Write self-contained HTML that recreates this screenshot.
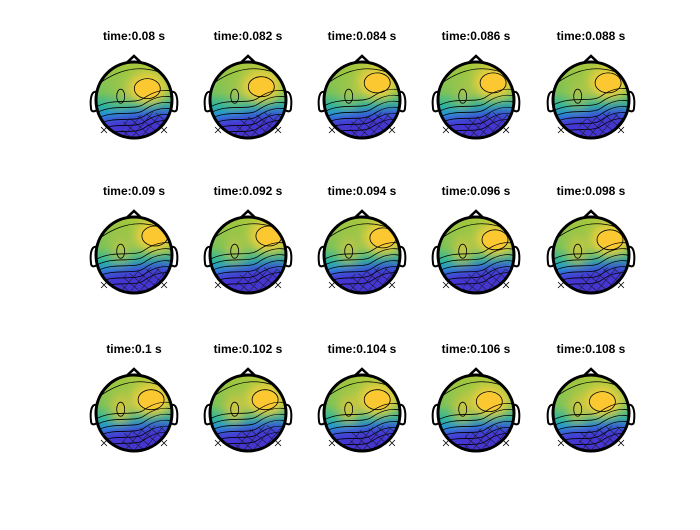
<!DOCTYPE html>
<html><head><meta charset="utf-8"><style>
html,body{margin:0;padding:0;background:#fff;}
#wrap{width:700px;height:525px;position:relative;}
text{font-family:"Liberation Sans",sans-serif;}
</style></head><body>
<div id="wrap">
<svg id="fig" width="700" height="525" viewBox="0 0 700 525">
<defs>
<filter id="blur" x="-50%" y="-50%" width="200%" height="200%"><feGaussianBlur stdDeviation="6"/></filter>
<linearGradient id="bg" x1="0" y1="0" x2="0" y2="1">
<stop offset="0" stop-color="#a8c83a"/><stop offset="0.4" stop-color="#78c25a"/><stop offset="0.58" stop-color="#2cb4a0"/><stop offset="0.7" stop-color="#2296d8"/><stop offset="0.82" stop-color="#4056e2"/><stop offset="1" stop-color="#4a2ec4"/>
</linearGradient>
<pattern id="hatch" width="7" height="7" patternUnits="userSpaceOnUse" patternTransform="rotate(40)">
<path d="M0 0 L0 7 M0 0 L7 0" stroke="#111" stroke-width="0.9" fill="none"/>
</pattern>
</defs>
</svg>
</div>
<script>
const times=[0.08,0.082,0.084,0.086,0.088,0.09,0.092,0.094,0.096,0.098,0.1,0.102,0.104,0.106,0.108];
const blobX=[0.35,0.35,0.4,0.45,0.45,0.55,0.55,0.55,0.5,0.5,0.45,0.45,0.4,0.35,0.3];
const blobY=[-0.3,-0.35,-0.45,-0.45,-0.45,-0.5,-0.5,-0.45,-0.4,-0.4,-0.35,-0.35,-0.35,-0.3,-0.3];
const leftBlob=[0.3,0.3,0.4,0.4,0.5,0.6,0.6,0.7,0.8,0.8,0.9,0.9,0.9,0.8,0.8];
const blueLevel=[0.45,0.45,0.42,0.42,0.4,0.38,0.38,0.38,0.38,0.38,0.42,0.42,0.45,0.45,0.45];
const colX=[134,248,362,476,591];
const rowY=[100,255,413];
const R=38;
const svg=document.getElementById('fig');
const NS='http://www.w3.org/2000/svg';
function mk(tag,attrs,parent){const e=document.createElementNS(NS,tag);for(const k in attrs)e.setAttribute(k,attrs[k]);(parent||svg).appendChild(e);return e;}
times.forEach((t,i)=>{
  const cx=colX[i%5], cy=rowY[Math.floor(i/5)];
  const g=mk('g',{});
  
  
  const title=mk('text',{x:cx,y:cy-60,'text-anchor':'middle','font-size':12,'font-weight':'bold',fill:'#000'},g);
  title.textContent='time:'+t+' s';
  
  
  const cid='c'+i;
  const cp=mk('clipPath',{id:cid},g);mk('circle',{cx:cx,cy:cy,r:R},cp);
  const body=mk('g',{'clip-path':'url(#'+cid+')'},g);
  
  
  mk('rect',{x:cx-R,y:cy-R,width:2*R,height:2*R,fill:'url(#bg)'},body);
  const b=mk('ellipse',{cx:cx+blobX[i]*R,cy:cy+blobY[i]*R,rx:20,ry:16,fill:'#fbd03a',filter:'url(#blur)'},body);
  
  
  mk('ellipse',{cx:cx+blobX[i]*R,cy:cy+blobY[i]*R,rx:12,ry:9,fill:'#fcc832'},body);
  mk('ellipse',{cx:cx-0.35*R,cy:cy-0.1*R,rx:10,ry:16,fill:'#e0c83a','fill-opacity':leftBlob[i],filter:'url(#blur)'},body);
  const by=cy+blueLevel[i]*R;
  mk('path',{d:`M${cx-R} ${by+8} Q${cx-10} ${by-2} ${cx+R} ${by-6} L${cx+R} ${cy+R} L${cx-R} ${cy+R}Z`,fill:'#4434d0',filter:'url(#blur)'},body);
  for(let k=-3;k<=2;k++){
    const yy=by+k*6;
    mk('path',{d:`M${cx-R} ${yy+8} C${cx-20} ${yy-2} ${cx} ${yy+6} ${cx+10} ${yy-1} S${cx+30} ${yy-10} ${cx+R} ${yy-8}`,fill:'none',stroke:'#000','stroke-width':0.8},body);
  }
  mk('ellipse',{cx:cx+blobX[i]*R,cy:cy+blobY[i]*R,rx:13,ry:10,fill:'none',stroke:'#000','stroke-width':0.8},body);
  mk('ellipse',{cx:cx-0.35*R,cy:cy-0.1*R,rx:4,ry:7,fill:'none',stroke:'#000','stroke-width':0.8},body);
  mk('path',{d:`M${cx-R} ${cy-14} C${cx-15} ${cy-32} ${cx+10} ${cy-38} ${cx+R} ${cy-22}`,fill:'none',stroke:'#000','stroke-width':0.8},body);
  mk('path',{d:`M${cx-14} ${cy+R} L${cx-10} ${cy+20} L${cx+18} ${cy+12} L${cx+R} ${cy+16} L${cx+R} ${cy+R}Z`,fill:'url(#hatch)'},body);
  const h=mk('circle',{cx:cx,cy:cy,r:R,fill:'none',stroke:'#000','stroke-width':3},g);
  
  
  mk('path',{d:`M${cx-7} ${cy-R+0.5} L${cx} ${cy-R-6} L${cx+7} ${cy-R+0.5}`,fill:'none',stroke:'#000','stroke-width':2.5},g);
  mk('path',{d:`M${cx-R+1} ${cy-8} C${cx-R-5} ${cy-10} ${cx-R-6} ${cy} ${cx-R-5} ${cy+8} C${cx-R-5} ${cy+12} ${cx-R-2} ${cy+12} ${cx-R+1} ${cy+10}`,fill:'none',stroke:'#000','stroke-width':2},g);
  mk('path',{d:`M${cx+R-1} ${cy-8} C${cx+R+5} ${cy-10} ${cx+R+6} ${cy} ${cx+R+5} ${cy+8} C${cx+R+5} ${cy+12} ${cx+R+2} ${cy+12} ${cx+R-1} ${cy+10}`,fill:'none',stroke:'#000','stroke-width':2},g);
  [[-30,30],[30,30]].forEach(p=>{
    const x=cx+p[0],y=cy+p[1];
    mk('path',{d:`M${x-3} ${y-3}L${x+3} ${y+3}M${x-3} ${y+3}L${x+3} ${y-3}`,stroke:'#000','stroke-width':0.8},g);
  });
});
</script>
</body></html>
